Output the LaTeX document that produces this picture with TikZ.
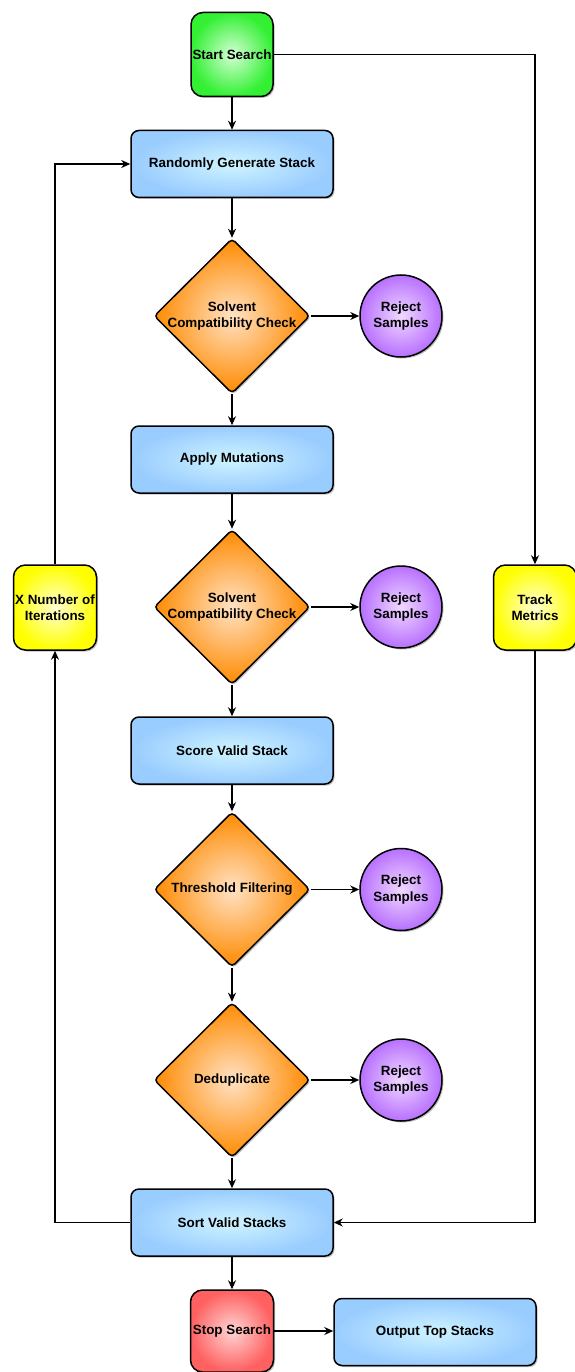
\documentclass[tikz,border=0pt]{standalone}
\usepackage{fontspec}
\setmainfont{Liberation Sans}
\usetikzlibrary{shapes.geometric,arrows.meta,shadows}
\definecolor{blueA}{HTML}{CFF4FF}
\definecolor{blueB}{HTML}{99CCFF}
\definecolor{greenA}{HTML}{D4FFD4}
\definecolor{greenB}{HTML}{33F033}
\definecolor{orangeA}{HTML}{FFE2C4}
\definecolor{orangeB}{HTML}{FF8A00}
\definecolor{purpleA}{HTML}{F0D8FF}
\definecolor{purpleB}{HTML}{B870FF}
\definecolor{yellowA}{HTML}{FFFFD0}
\definecolor{yellowB}{HTML}{FFFF00}
\definecolor{redA}{HTML}{FFD4D4}
\definecolor{redB}{HTML}{FF6060}
\begin{document}
\begin{tikzpicture}[x=1pt,y=-1pt,
  txt/.style={font=\fontsize{13.4}{16.5}\selectfont\bfseries, align=center, text=black},
  base/.style={draw=black, line width=1.5pt, txt,
    drop shadow={opacity=0.25, shadow xshift=1.5pt, shadow yshift=-1.5pt, fill=black}},
  proc/.style={base, rounded corners=8pt, minimum width=202pt, minimum height=67pt, inner color=blueA, outer color=blueB},
  startbox/.style={base, rounded corners=12pt, minimum width=82pt, minimum height=84pt, inner sep=0pt, inner color=greenA, outer color=greenB},
  stopbox/.style={base, rounded corners=12pt, minimum width=83pt, minimum height=82pt, inner sep=0pt, inner color=redA, outer color=redB},
  sidebox/.style={base, rounded corners=12pt, minimum width=83pt, minimum height=85pt, inner sep=0pt, inner color=yellowA, outer color=yellowB},
  dia/.style={base, shape=diamond, rounded corners=4pt, minimum width=156pt, minimum height=155pt, inner sep=0pt, inner color=orangeA, outer color=orangeB},
  rej/.style={base, shape=circle, minimum size=82pt, inner sep=0pt, inner color=purpleA, outer color=purpleB},
  conn/.style={draw=black, line width=1.5pt},
  arr/.style={conn, -{Stealth[length=9pt,width=8pt]}}
]
\useasboundingbox (0,0) rectangle (575,1372);

\node[startbox] (start) at (232,54.5) {Start Search};
\node[proc] (rgs) at (232,164) {Randomly Generate Stack};
\node[dia] (d1) at (232,316) {};
\node[txt] (d1t) at (d1) {Solvent\\Compatibility Check};
\node[rej] (r1) at (401,316) {Reject\\Samples};
\node[proc] (am) at (232,459.5) {Apply Mutations};
\node[dia] (d2) at (232,607) {};
\node[txt] (d2t) at (d2) {Solvent\\Compatibility Check};
\node[rej] (r2) at (401,607) {Reject\\Samples};
\node[proc] (svs) at (232,750.5) {Score Valid Stack};
\node[dia] (d3) at (232,889.5) {};
\node[txt] (d3t) at (d3) {Threshold Filtering};
\node[rej] (r3) at (401,889.5) {Reject\\Samples};
\node[dia] (d4) at (232,1080) {};
\node[txt] (d4t) at (d4) {Deduplicate};
\node[rej] (r4) at (401,1080) {Reject\\Samples};
\node[proc] (sort) at (232,1222.5) {Sort Valid Stacks};
\node[stopbox] (stop) at (232,1331) {Stop Search};
\node[proc] (out) at (435,1332) {Output Top Stacks};
\node[sidebox] (iter) at (55,607.5) {X Number of\\Iterations};
\node[sidebox] (track) at (535,607.5) {Track\\Metrics};

\draw[arr] (start) -- (rgs);
\draw[arr] (rgs) -- (d1);
\draw[arr] (d1) -- (am);
\draw[arr] (am) -- (d2);
\draw[arr] (d2) -- (svs);
\draw[arr] (svs) -- (d3);
\draw[arr] (d3) -- (d4);
\draw[arr] (d4) -- (sort);
\draw[arr] (sort) -- (stop);
\draw[arr] (stop.east) -- (out.west |- stop.east);
\draw[arr] (d1) -- (r1);
\draw[arr] (d2) -- (r2);
\draw[arr] (d3) -- (r3);
\draw[arr] (d4) -- (r4);
\draw[arr] (start.east) -| (track.north);
\draw[arr] (track.south) |- (sort.east);
\draw[arr] (sort.west) -| (iter.south);
\draw[arr] (iter.north) |- (rgs.west);
\end{tikzpicture}
\end{document}
